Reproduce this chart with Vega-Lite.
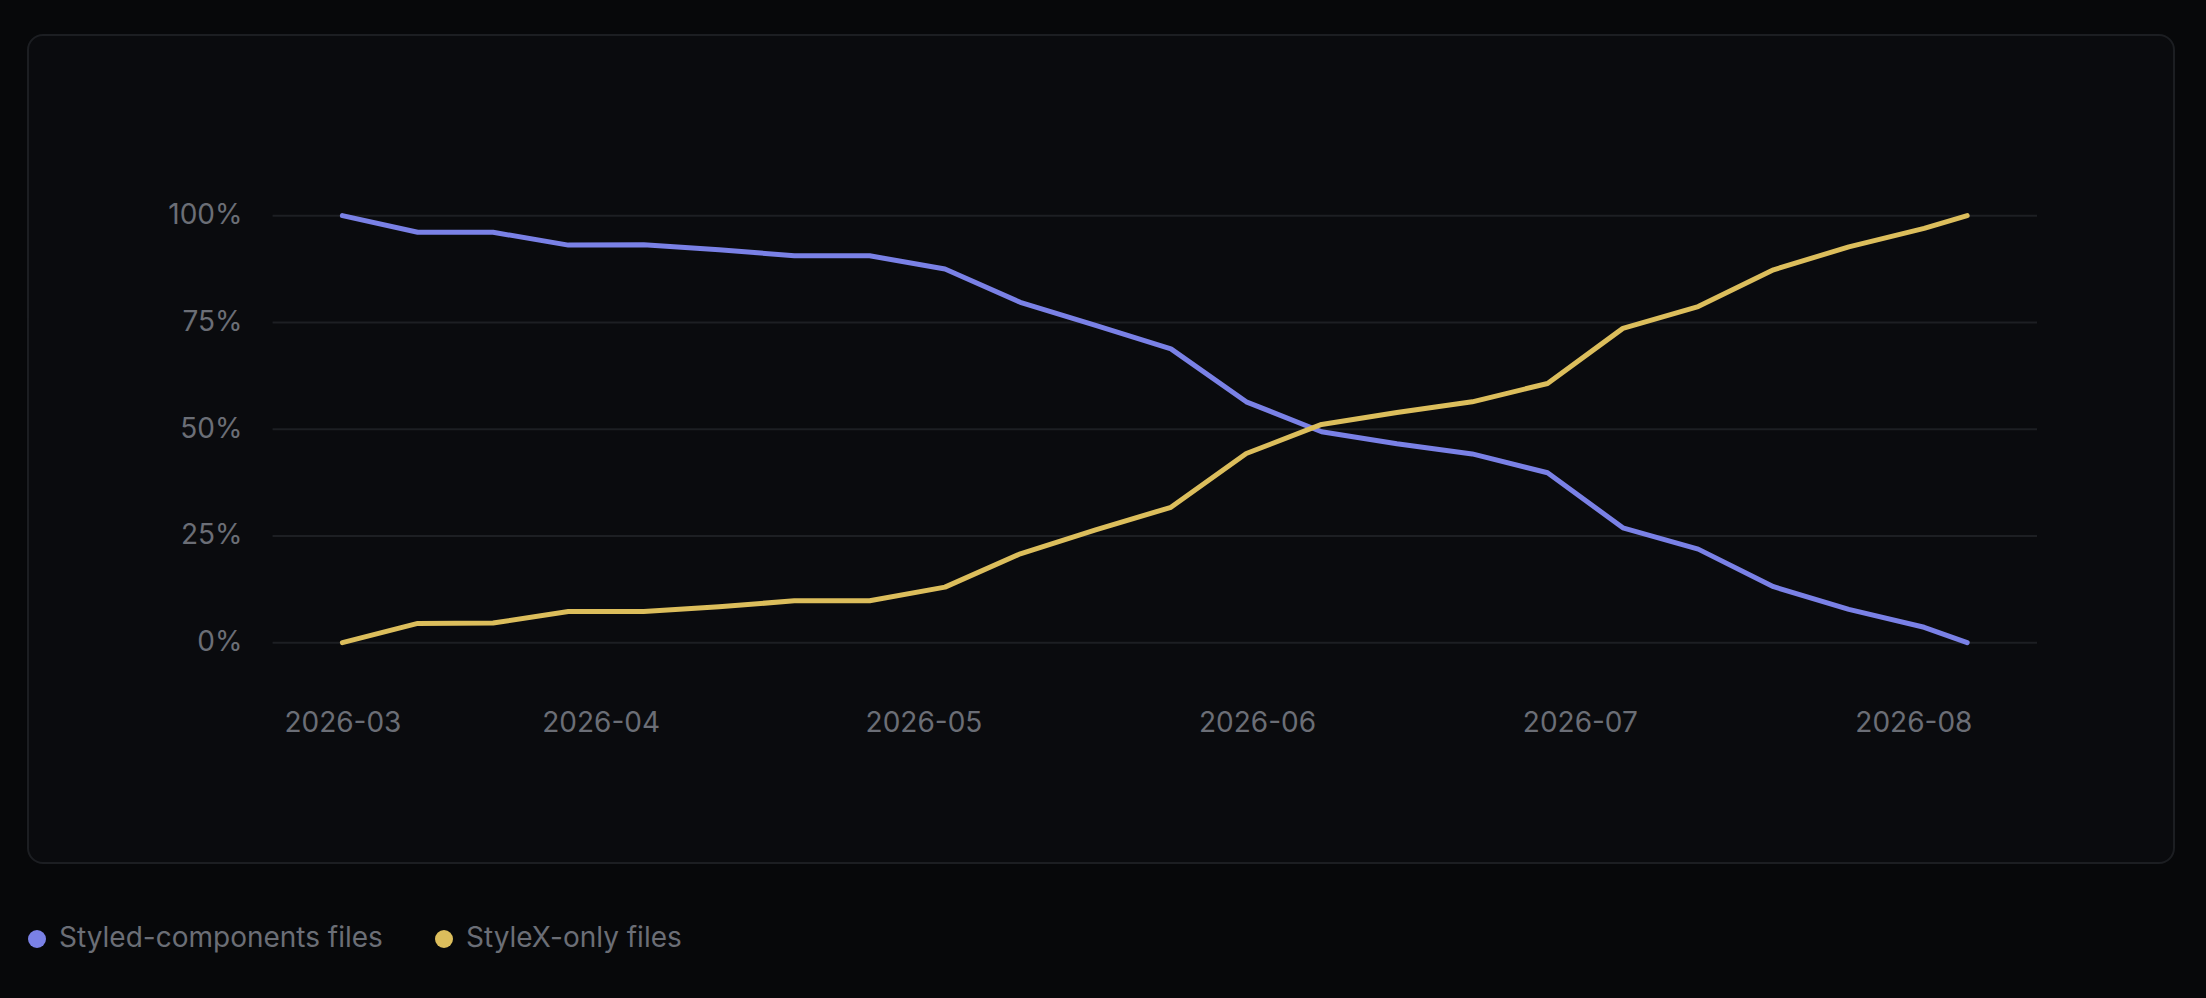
{
  "$schema": "https://vega.github.io/schema/vega-lite/v6.json",
  "width": 2146,
  "height": 828,
  "autosize": {"type": "none"},
  "padding": {"left": 28, "top": 35, "right": 32, "bottom": 135},
  "background": "#07080a",
  "config": {
    "font": "Inter",
    "view": {"fill": "#0a0b0e", "stroke": "#1c1e22", "strokeWidth": 2, "cornerRadius": 15},
    "axisX": {
      "grid": false,
      "domain": false,
      "ticks": false,
      "tickSize": 0,
      "labelPadding": 0,
      "offset": -139.5,
      "labelBaseline": "middle",
      "labelFont": "Inter",
      "labelFontSize": 28,
      "labelColor": "#6b6e76",
      "labelOverlap": false,
      "labelFlush": false
    },
    "axisY": {
      "grid": false,
      "domain": false,
      "ticks": false,
      "tickSize": 0,
      "labelPadding": 0,
      "offset": -214,
      "labelFont": "Inter",
      "labelFontSize": 28,
      "labelColor": "#6b6e76"
    }
  },
  "layer": [
    {
      "data": {"values": [{"tick": 0}, {"tick": 25}, {"tick": 50}, {"tick": 75}, {"tick": 100}]},
      "mark": {"type": "rule", "color": "#1d1f23", "strokeWidth": 2},
      "encoding": {
        "y": {
          "field": "tick",
          "type": "quantitative",
          "scale": {"domain": [-51.6, 142.3], "nice": false, "zero": false},
          "axis": {"title": null, "values": [0, 25, 50, 75, 100], "labelExpr": "datum.value + '%'"}
        },
        "x": {
          "datum": {"year": 2026, "month": 3, "date": 1, "hours": 12, "minutes": 14},
          "type": "temporal",
          "scale": {
            "domain": [
              {"year": 2026, "month": 2, "date": 6, "hours": 18, "minutes": 43},
              {"year": 2026, "month": 8, "date": 25, "hours": 5, "minutes": 17}
            ],
            "nice": false
          },
          "axis": {
            "title": null,
            "format": "%Y-%m",
            "values": [
              {"year": 2026, "month": 3, "date": 8},
              {"year": 2026, "month": 4, "date": 1},
              {"year": 2026, "month": 5, "date": 1},
              {"year": 2026, "month": 6, "date": 1},
              {"year": 2026, "month": 7, "date": 1},
              {"year": 2026, "month": 8, "date": 1}
            ]
          }
        },
        "x2": {"datum": {"year": 2026, "month": 8, "date": 12, "hours": 11, "minutes": 45}}
      }
    },
    {
      "data": {
        "values": [
          {"date": "2026-03-08T00:00:00", "series": "Styled-components files", "value": 100},
          {"date": "2026-03-15T00:00:00", "series": "Styled-components files", "value": 96.1},
          {"date": "2026-03-22T00:00:00", "series": "Styled-components files", "value": 96.1},
          {"date": "2026-03-29T00:00:00", "series": "Styled-components files", "value": 93.1},
          {"date": "2026-04-05T00:00:00", "series": "Styled-components files", "value": 93.2},
          {"date": "2026-04-12T00:00:00", "series": "Styled-components files", "value": 92.0},
          {"date": "2026-04-19T00:00:00", "series": "Styled-components files", "value": 90.6},
          {"date": "2026-04-26T00:00:00", "series": "Styled-components files", "value": 90.6},
          {"date": "2026-05-03T00:00:00", "series": "Styled-components files", "value": 87.5},
          {"date": "2026-05-10T00:00:00", "series": "Styled-components files", "value": 79.7},
          {"date": "2026-05-17T00:00:00", "series": "Styled-components files", "value": 74.3},
          {"date": "2026-05-24T00:00:00", "series": "Styled-components files", "value": 68.8},
          {"date": "2026-05-31T00:00:00", "series": "Styled-components files", "value": 56.4},
          {"date": "2026-06-07T00:00:00", "series": "Styled-components files", "value": 49.4},
          {"date": "2026-06-14T00:00:00", "series": "Styled-components files", "value": 46.6},
          {"date": "2026-06-21T00:00:00", "series": "Styled-components files", "value": 44.2},
          {"date": "2026-06-28T00:00:00", "series": "Styled-components files", "value": 39.8},
          {"date": "2026-07-05T00:00:00", "series": "Styled-components files", "value": 26.9},
          {"date": "2026-07-12T00:00:00", "series": "Styled-components files", "value": 21.9},
          {"date": "2026-07-19T00:00:00", "series": "Styled-components files", "value": 13.1},
          {"date": "2026-07-26T00:00:00", "series": "Styled-components files", "value": 7.8},
          {"date": "2026-08-02T00:00:00", "series": "Styled-components files", "value": 3.6},
          {"date": "2026-08-06T00:00:00", "series": "Styled-components files", "value": 0},
          {"date": "2026-03-08T00:00:00", "series": "StyleX-only files", "value": 0},
          {"date": "2026-03-15T00:00:00", "series": "StyleX-only files", "value": 4.5},
          {"date": "2026-03-22T00:00:00", "series": "StyleX-only files", "value": 4.6},
          {"date": "2026-03-29T00:00:00", "series": "StyleX-only files", "value": 7.3},
          {"date": "2026-04-05T00:00:00", "series": "StyleX-only files", "value": 7.3},
          {"date": "2026-04-12T00:00:00", "series": "StyleX-only files", "value": 8.4},
          {"date": "2026-04-19T00:00:00", "series": "StyleX-only files", "value": 9.8},
          {"date": "2026-04-26T00:00:00", "series": "StyleX-only files", "value": 9.8},
          {"date": "2026-05-03T00:00:00", "series": "StyleX-only files", "value": 13.0},
          {"date": "2026-05-10T00:00:00", "series": "StyleX-only files", "value": 20.8},
          {"date": "2026-05-17T00:00:00", "series": "StyleX-only files", "value": 26.4},
          {"date": "2026-05-24T00:00:00", "series": "StyleX-only files", "value": 31.7},
          {"date": "2026-05-31T00:00:00", "series": "StyleX-only files", "value": 44.3},
          {"date": "2026-06-07T00:00:00", "series": "StyleX-only files", "value": 51.1},
          {"date": "2026-06-14T00:00:00", "series": "StyleX-only files", "value": 53.9},
          {"date": "2026-06-21T00:00:00", "series": "StyleX-only files", "value": 56.4},
          {"date": "2026-06-28T00:00:00", "series": "StyleX-only files", "value": 60.7},
          {"date": "2026-07-05T00:00:00", "series": "StyleX-only files", "value": 73.6},
          {"date": "2026-07-12T00:00:00", "series": "StyleX-only files", "value": 78.7},
          {"date": "2026-07-19T00:00:00", "series": "StyleX-only files", "value": 87.3},
          {"date": "2026-07-26T00:00:00", "series": "StyleX-only files", "value": 92.7},
          {"date": "2026-08-02T00:00:00", "series": "StyleX-only files", "value": 97.0},
          {"date": "2026-08-06T00:00:00", "series": "StyleX-only files", "value": 100}
        ]
      },
      "mark": {"type": "line", "strokeWidth": 5, "strokeCap": "round", "strokeJoin": "round"},
      "encoding": {
        "x": {
          "field": "date",
          "type": "temporal",
          "scale": {
            "domain": [
              {"year": 2026, "month": 2, "date": 6, "hours": 18, "minutes": 43},
              {"year": 2026, "month": 8, "date": 25, "hours": 5, "minutes": 17}
            ],
            "nice": false
          },
          "axis": {
            "title": null,
            "format": "%Y-%m",
            "values": [
              {"year": 2026, "month": 3, "date": 8},
              {"year": 2026, "month": 4, "date": 1},
              {"year": 2026, "month": 5, "date": 1},
              {"year": 2026, "month": 6, "date": 1},
              {"year": 2026, "month": 7, "date": 1},
              {"year": 2026, "month": 8, "date": 1}
            ]
          }
        },
        "y": {
          "field": "value",
          "type": "quantitative",
          "scale": {"domain": [-51.6, 142.3], "nice": false, "zero": false},
          "axis": {"title": null, "values": [0, 25, 50, 75, 100], "labelExpr": "datum.value + '%'"}
        },
        "color": {
          "field": "series",
          "type": "nominal",
          "scale": {
            "domain": ["Styled-components files", "StyleX-only files"],
            "range": ["#7a81e6", "#dcbe5c"]
          },
          "legend": {
            "title": null,
            "orient": "none",
            "legendX": -5,
            "legendY": 890,
            "direction": "horizontal",
            "symbolType": "circle",
            "symbolSize": 324,
            "symbolStrokeWidth": 0,
            "labelFont": "Inter",
            "labelFontSize": 28,
            "labelColor": "#6b6e76",
            "labelOffset": 8,
            "labelLimit": 1000,
            "columnPadding": 47,
            "encode": {
              "symbols": {"update": {"fill": {"scale": "color", "field": "value"}, "opacity": {"value": 1}}}
            }
          }
        }
      }
    }
  ]
}
